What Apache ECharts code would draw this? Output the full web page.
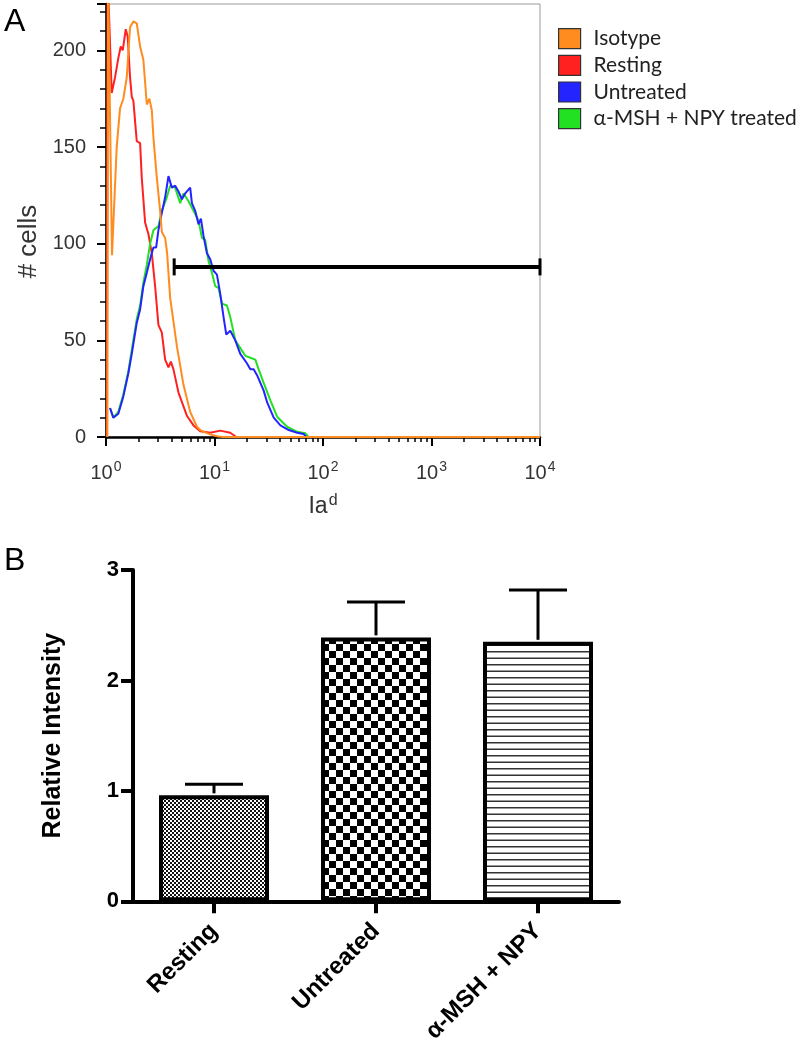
<!DOCTYPE html>
<html><head><meta charset="utf-8">
<script src="https://cdn.jsdelivr.net/npm/echarts@6/dist/echarts.min.js"></script>
<style>html,body{margin:0;padding:0;background:#fff}#c{width:800px;height:1046px}</style>
</head><body><div id="c"></div>
<script>
// ---------- Panel A: flow cytometry histogram, points are [Ia^d intensity, # cells] ----------
const isotype = [[1.03,0],[1.043,240],[1.136,94],[1.173,112],[1.255,150],[1.347,170],[1.445,175],[1.553,186],[1.666,212],[1.787,215],[1.921,214],[2.062,202],[2.137,201],[2.211,195],[2.377,172],[2.512,175],[2.644,169],[2.735,155],[2.941,134],[3.154,117],[3.27,106],[3.508,103],[3.661,95],[3.902,72],[4.5,47],[5.178,27],[5.97,13],[6.885,5.3],[7.385,3.6],[8.517,2],[9.533,1],[10.83,0.3],[12,0],[10000,0]];
const resting = [[1.02,0],[1.035,240],[1.129,178],[1.211,186],[1.299,196],[1.367,202],[1.427,200],[1.521,211],[1.586,207],[1.666,186],[1.728,176],[1.787,174],[1.921,153],[2.062,152],[2.137,134],[2.293,111],[2.459,105],[2.644,95],[2.836,78],[3.042,58],[3.27,54],[3.508,40],[3.764,36],[3.961,39],[4.185,35],[4.656,23],[5.567,11],[6.404,6],[7.385,3],[9.135,2.2],[11.3,3.3],[13.98,2.2],[15.88,0]];
const untreated = [[1.089,15],[1.168,10],[1.299,12],[1.445,21],[1.607,33],[1.728,43],[1.921,59],[2.062,66],[2.211,78],[2.377,85],[2.55,92],[2.735,98],[2.897,98],[3.042,107],[3.27,116],[3.508,124],[3.764,135],[4.045,129],[4.34,130],[4.656,127],[5.005,123],[5.369,126],[5.97,129],[6.19,121],[6.64,117],[7.123,110],[7.496,113],[7.923,104],[8.517,95],[9.135,92],[9.799,86],[10.53,84],[11.3,74],[12.12,62],[12.84,53],[13.98,55],[15.55,50],[17.29,43],[19.95,38],[21.4,35],[22.95,35],[24.67,32],[28.39,24],[30.52,18],[32.73,14],[35.13,10],[40.5,6],[48.32,3.6],[57.77,2.2],[66.47,1.5],[70,0]];
const msnpyTreated = [[1.089,15],[1.168,10],[1.299,13],[1.445,22],[1.607,34],[1.728,45],[1.921,61],[2.062,68],[2.211,80],[2.377,89],[2.55,100],[2.735,107],[3.042,109],[3.27,117],[3.637,124],[3.902,130],[4.34,129],[4.827,121],[5.178,126],[5.76,122],[6.404,117],[7.123,112],[7.657,103],[8.213,102],[8.81,91],[9.472,85],[10.16,78],[10.9,77],[11.72,69],[13.03,68],[13.98,62],[15.55,50],[17.29,46],[19.24,42],[21.4,41],[23.79,40],[25.52,35],[28.39,28],[32.73,19],[37.76,10.5],[46.7,5.3],[57.77,2.7],[68.92,1.9],[73.47,0]];
const gateMarker = [[4.25, 10000, 88]];   // [from, to, height]
const histNames = ['Isotype', 'Resting', 'Untreated', 'α-MSH + NPY treated'];
const histColors = ['#FF8C1E', '#FF2020', '#2424FF', '#22E022'];
const histYMax = 224;

// ---------- Panel B: relative intensity bar chart ----------
const categories = ['Resting', 'Untreated', 'α-MSH + NPY'];
const intensity = [0.96, 2.39, 2.35];
const sem = [0.10, 0.32, 0.47];

// fill patterns
function makePattern(kind) {
  const c = document.createElement('canvas');
  const g = c.getContext('2d');
  if (kind === 'fine') {
    c.width = 4; c.height = 4;
    g.fillStyle = '#fff'; g.fillRect(0,0,4,4);
    g.fillStyle = '#111'; g.fillRect(0,0,2,2); g.fillRect(2,2,2,2);
  } else if (kind === 'coarse') {
    c.width = 14; c.height = 14;
    g.fillStyle = '#fff'; g.fillRect(0,0,14,14);
    g.fillStyle = '#000'; g.fillRect(0,0,7,7); g.fillRect(7,7,7,7);
  } else {
    c.width = 4; c.height = 13;
    g.fillStyle = '#fff'; g.fillRect(0,0,4,13);
    g.fillStyle = '#333'; g.fillRect(0,1,4,1.5); g.fillRect(0,7.5,4,1.5);
  }
  return { image: c, repeat: 'repeat' };
}
const patterns = [makePattern('fine'), makePattern('coarse'), makePattern('lines')];

const histData = [isotype, resting, untreated, msnpyTreated];
const zOrder = [6, 3, 5, 4];
const lineSeries = histNames.map((n, i) => ({
  name: n, type: 'line', xAxisIndex: 0, yAxisIndex: 0,
  data: histData[i], showSymbol: false, symbol: 'none',
  lineStyle: { color: histColors[i], width: 2 },
  itemStyle: { color: histColors[i] },
  z: zOrder[i], animation: false
}));

const fontA = 'Liberation Sans, Arial, sans-serif';
const supFmt = v => {
  const e = Math.round(Math.log10(v));
  return '{b|10}{s|' + e + '}';
};

const chart = echarts.init(document.getElementById('c'), null, { renderer: 'canvas' });
chart.setOption({
  animation: false,
  backgroundColor: '#fff',
  graphic: [
    { type: 'text', left: 4, top: 6, style: { text: 'A', font: '32px ' + fontA, fill: '#000' } },
    { type: 'text', left: 4, top: 545, style: { text: 'B', font: '32px ' + fontA, fill: '#000' } }
  ],
  legend: {
    data: histNames, orient: 'vertical', left: 553, top: 23,
    icon: 'rect', itemWidth: 22, itemHeight: 20, itemGap: 5.5,
    itemStyle: { borderColor: '#333', borderWidth: 1.2 },
    textStyle: { fontFamily: 'Lato, sans-serif', fontSize: 21, color: '#222', padding: [0,0,0,8] },
    selectedMode: false
  },
  grid: [
    { left: 106, top: 4, width: 434, height: 433, show: true, borderColor: '#999', borderWidth: 1, containLabel: false },
    { left: 133, top: 570, width: 486, height: 333, containLabel: false }
  ],
  xAxis: [
    {
      gridIndex: 0, type: 'log', logBase: 10, min: 1, max: 10000,
      axisLine: { show: true, lineStyle: { color: '#000', width: 2.5 } },
      axisTick: { show: true, length: 9, lineStyle: { color: '#000', width: 2 } },
      minorTick: { show: true, splitNumber: 9, length: 5, lineStyle: { color: '#000', width: 1.5 } },
      splitLine: { show: false }, minorSplitLine: { show: false },
      axisLabel: {
        margin: 23, formatter: supFmt,
        rich: {
          b: { fontSize: 20, fontFamily: fontA, color: '#333' },
          s: { fontSize: 14, fontFamily: fontA, color: '#333', padding: [0,0,12,1] }
        }
      },
      name: '{a|Ia}{s|d}', nameLocation: 'middle', nameGap: 56,
      nameTextStyle: {
        rich: {
          a: { fontSize: 23, fontFamily: fontA, color: '#333' },
          s: { fontSize: 16, fontFamily: fontA, color: '#333', padding: [0,0,12,1] }
        }
      }
    },
    {
      gridIndex: 1, type: 'category', data: categories,
      axisLine: { show: true, lineStyle: { color: '#000', width: 4 } },
      axisTick: { show: true, alignWithLabel: true, length: 12, lineStyle: { color: '#000', width: 4 } },
      axisLabel: { rotate: 45, margin: 26, fontSize: 24, fontWeight: 'bold', fontFamily: fontA, color: '#000', interval: 0 },
      splitLine: { show: false }
    }
  ],
  yAxis: [
    {
      gridIndex: 0, type: 'value', min: 0, max: histYMax, interval: 50,
      axisLine: { show: true, lineStyle: { color: '#000', width: 2.5 } },
      axisTick: { show: true, length: 9, lineStyle: { color: '#000', width: 2 } },
      minorTick: { show: true, splitNumber: 5, length: 6, lineStyle: { color: '#000', width: 1.5 } },
      splitLine: { show: false },
      axisLabel: { margin: 20, fontSize: 20, fontFamily: fontA, color: '#333', showMaxLabel: false },
      name: '# cells', nameLocation: 'middle', nameGap: 53,
      nameTextStyle: { fontSize: 26, fontFamily: fontA, color: '#333', padding: [0, 42, 0, 0] }
    },
    {
      gridIndex: 1, type: 'value', min: 0, max: 3, interval: 1,
      axisLine: { show: true, lineStyle: { color: '#000', width: 4 } },
      axisTick: { show: true, length: 12, lineStyle: { color: '#000', width: 4 } },
      splitLine: { show: false },
      axisLabel: { margin: 14, fontSize: 22, fontWeight: 'bold', fontFamily: fontA, color: '#000' },
      name: 'Relative Intensity', nameLocation: 'middle', nameGap: 67,
      nameTextStyle: { fontSize: 25, fontWeight: 'bold', fontFamily: fontA, color: '#000' }
    }
  ],
  series: lineSeries.concat([
    {
      type: 'custom', xAxisIndex: 0, yAxisIndex: 0, data: gateMarker, z: 7,
      encode: { x: [0, 1], y: 2 }, clip: false,
      renderItem: (params, api) => {
        const p1 = api.coord([api.value(0), api.value(2)]);
        const p2 = api.coord([api.value(1), api.value(2)]);
        const h = 8.5;
        const st = { stroke: '#000', lineWidth: 4 };
        return { type: 'group', children: [
          { type: 'line', shape: { x1: p1[0], y1: p1[1], x2: p2[0], y2: p2[1] }, style: st },
          { type: 'line', shape: { x1: p1[0], y1: p1[1] - h, x2: p1[0], y2: p1[1] + h }, style: { stroke: '#000', lineWidth: 3 } },
          { type: 'line', shape: { x1: p2[0], y1: p2[1] - h, x2: p2[0], y2: p2[1] + h }, style: { stroke: '#000', lineWidth: 3 } }
        ]};
      }
    },
    {
      type: 'bar', xAxisIndex: 1, yAxisIndex: 1, barWidth: 110,
      data: intensity.map((v, i) => ({ value: v, itemStyle: { color: patterns[i] } })),
      itemStyle: { borderColor: '#000', borderWidth: 4 }, z: 2
    },
    {
      type: 'custom', xAxisIndex: 1, yAxisIndex: 1, z: 3,
      data: intensity.map((v, i) => [i, v, v + sem[i]]),
      encode: { x: 0, y: [1, 2] },
      renderItem: (params, api) => {
        const lo = api.coord([api.value(0), api.value(1)]);
        const hi = api.coord([api.value(0), api.value(2)]);
        const cap = 29;
        const st = { stroke: '#000', lineWidth: 3 };
        return { type: 'group', children: [
          { type: 'line', shape: { x1: lo[0], y1: lo[1] - 2, x2: hi[0], y2: hi[1] }, style: st },
          { type: 'line', shape: { x1: hi[0] - cap, y1: hi[1], x2: hi[0] + cap, y2: hi[1] }, style: st }
        ]};
      }
    }
  ])
});
</script></body></html>
